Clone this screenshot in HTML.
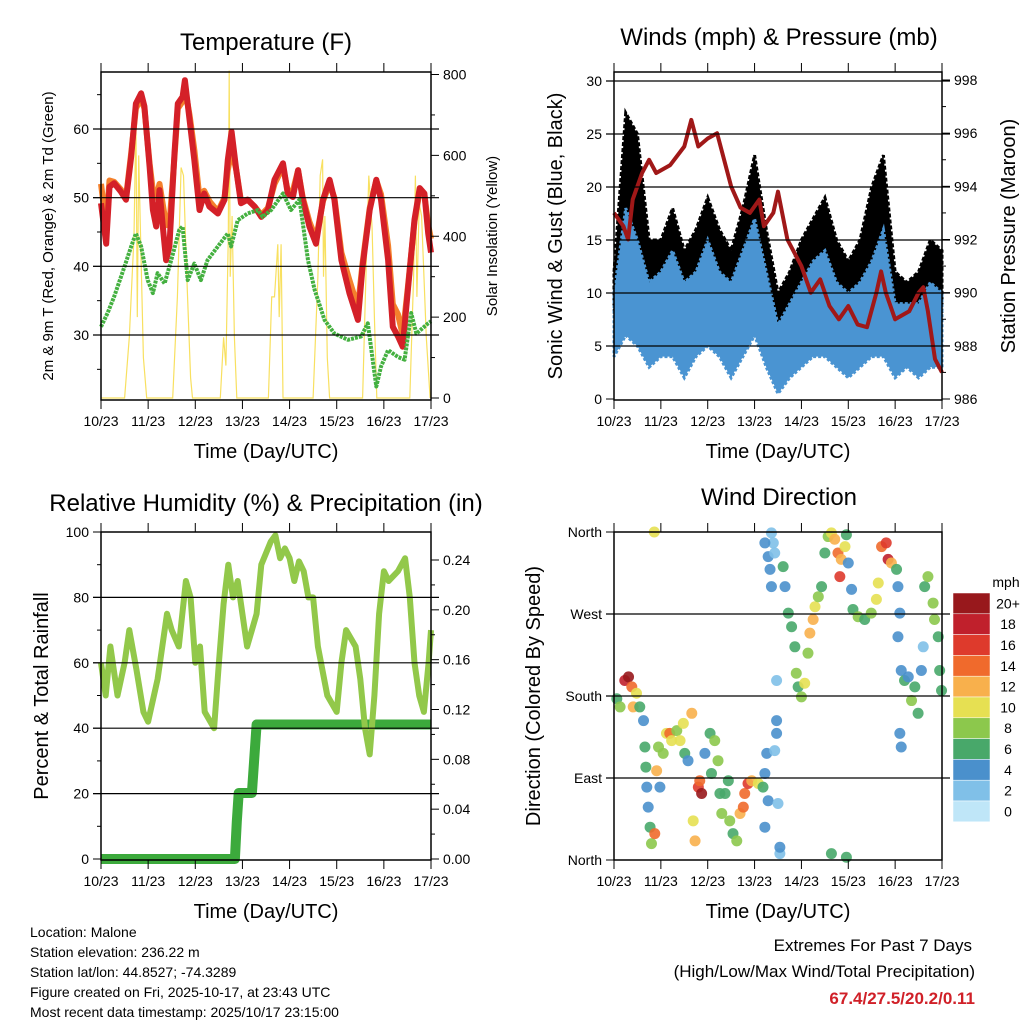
<!DOCTYPE html>
<html><head><meta charset="utf-8">
<style>
body{margin:0;background:#fff;}
svg{display:block;font-family:"Liberation Sans",sans-serif;}
</style></head>
<body>
<svg id="c" width="1024" height="1024" viewBox="0 0 1024 1024">
<rect width="1024" height="1024" fill="#fff"/>
<text x="266" y="50" font-size="24" text-anchor="middle">Temperature (F)</text>
<text x="779" y="45" font-size="24" text-anchor="middle">Winds (mph) &amp; Pressure (mb)</text>
<text x="266" y="511" font-size="24" text-anchor="middle">Relative Humidity (%) &amp; Precipitation (in)</text>
<text x="779" y="505" font-size="24" text-anchor="middle">Wind Direction</text>
<text transform="translate(53,236) rotate(-90)" font-size="15" text-anchor="middle">2m &amp; 9m T (Red, Orange) &amp; 2m Td (Green)</text>
<text transform="translate(497,236) rotate(-90)" font-size="15" text-anchor="middle">Solar Insolation (Yellow)</text>
<text transform="translate(562,236) rotate(-90)" font-size="20" text-anchor="middle">Sonic Wind &amp; Gust (Blue, Black)</text>
<text transform="translate(1015,236) rotate(-90)" font-size="20" text-anchor="middle">Station Pressure (Maroon)</text>
<text transform="translate(48,696) rotate(-90)" font-size="20" text-anchor="middle">Percent &amp; Total Rainfall</text>
<text transform="translate(540,696) rotate(-90)" font-size="20" text-anchor="middle">Direction (Colored By Speed)</text>
<text x="266" y="458" font-size="20" text-anchor="middle">Time (Day/UTC)</text>
<text x="778" y="458" font-size="20" text-anchor="middle">Time (Day/UTC)</text>
<text x="266" y="918" font-size="20" text-anchor="middle">Time (Day/UTC)</text>
<text x="778" y="918" font-size="20" text-anchor="middle">Time (Day/UTC)</text>
<g font-size="14">
<text x="30" y="937">Location: Malone</text>
<text x="30" y="957">Station elevation: 236.22 m</text>
<text x="30" y="977">Station lat/lon: 44.8527; -74.3289</text>
<text x="30" y="997">Figure created on Fri, 2025-10-17, at 23:43 UTC</text>
<text x="30" y="1017">Most recent data timestamp: 2025/10/17 23:15:00</text>
</g>
<text x="972" y="951" font-size="17" text-anchor="end">Extremes For Past 7 Days</text>
<text x="975" y="977" font-size="17" text-anchor="end">(High/Low/Max Wind/Total Precipitation)</text>
<text x="975" y="1004" font-size="17" font-weight="bold" fill="#d02028" text-anchor="end">67.4/27.5/20.2/0.11</text>
</svg>
<script>
// ---- data ----
const dayLabels=["10/23","11/23","12/23","13/23","14/23","15/23","16/23","17/23"];
const tT=[0,.11,.18,.28,.42,.53,.64,.74,.85,.92,1.03,1.10,1.17,1.24,1.31,1.38,1.45,1.56,1.63,1.73,1.78,1.88,1.98,2.09,2.19,2.30,2.48,2.62,2.69,2.77,2.87,2.97,3.11,3.26,3.40,3.54,3.68,3.86,3.96,4.07,4.18,4.28,4.42,4.56,4.71,4.85,4.95,5.10,5.27,5.45,5.55,5.70,5.84,5.94,6.09,6.19,6.30,6.40,6.51,6.65,6.76,6.86,6.94,7.0];
const temp2m=[49.2,43.3,51.6,52.1,50.9,49.7,56,63.7,65.2,63.3,54.5,48.2,45.8,51.1,45.8,40.9,42.9,56.5,63.7,64.7,67.1,61.3,55.5,48.2,50.6,48.7,47.7,49.7,55.5,59.6,54,49.2,49.7,48.7,47.2,48.2,52.6,55,50.6,50.1,54,49.7,45.8,43.3,49.7,52.6,49.7,40.9,36.1,32.2,40,48.2,52.6,49.7,40.9,31.2,29.8,28.3,36.6,46.8,51.4,50.6,44.8,42];
const temp9m=[52,46,52.5,52.3,51.2,50,56.5,63,64.5,63,55,51,50,52,49,46,46,56,63,64,66,62,57,50,51,49.5,48,50,54,57,54,49.5,49.7,48.7,47.5,48.5,52,54.5,51,51,54,50,46.5,44,49.5,52,50,42,38,34,40.5,48.5,52.5,50.5,43,34.5,33,30,37,46.5,51,50.5,46,44];
const tD=[0,.14,.28,.5,.64,.74,.85,.99,1.10,1.20,1.35,1.49,1.66,1.73,1.84,1.98,2.12,2.26,2.48,2.69,2.76,2.90,3.11,3.33,3.43,3.61,3.86,4.03,4.21,4.39,4.53,4.74,4.95,5.24,5.52,5.66,5.84,5.94,6.09,6.30,6.44,6.58,6.69,6.94,7.0];
const dewpoint=[31.2,33.2,35.6,40,42.9,44.8,42.9,38,36.1,39,37.5,40.9,45.3,45.8,38,40.4,38,40.9,42.9,44.8,42.9,46.7,47.7,48.2,47.2,48.2,50.6,48.2,49.7,40.9,36.6,32.2,30.2,29.3,29.8,31.7,22.5,25.4,27.8,26.8,26.4,33.2,30.2,31.7,32];
const tS=[0,.5,.6,.7,.74,.77,.8,.86,.9,.97,1.52,1.62,1.7,1.75,1.82,1.9,1.94,2.53,2.6,2.65,2.7,2.72,2.74,2.78,2.83,2.88,3.55,3.62,3.68,3.75,3.78,3.82,3.86,4.5,4.6,4.65,4.7,4.72,4.75,4.8,4.85,5.55,5.62,5.68,5.75,5.8,5.85,6.55,6.63,6.67,6.7,6.75,6.8,6.9,6.98];
const solar=[0,0,150,400,690,200,600,300,100,0,0,250,570,550,300,50,0,0,150,80,400,810,300,450,150,0,0,250,250,380,200,380,0,0,300,550,590,300,450,100,0,0,300,550,420,200,0,0,300,550,250,480,450,150,0];
const tW=[0,.25,.5,.75,1,1.25,1.5,1.75,2,2.25,2.5,2.75,3,3.25,3.5,3.75,4,4.25,4.5,4.75,5,5.25,5.5,5.75,6,6.25,6.5,6.75,7];
const windLo=[4,6,5,3,4,4,2,4,5,4,2,4,6,3,0.5,2,3,4,4,3,2,3,4,4,2,3,2,3,3];
const windHi=[10,18,15,11,12,14,11,12,15,12,11,14,17,12,7,9,11,13,14,11,10,11,13,16,9,9,9,11,10];
const gustHi=[12,27,25,15,15,18,14,16,19,16,14,18,23,16,10,12,15,17,19,15,13,15,20,23,12,11,12,15,14];
const tP=[0,.2,.3,.4,.6,.75,.9,1.2,1.5,1.65,1.8,2.0,2.2,2.35,2.5,2.7,2.9,3.1,3.2,3.4,3.5,3.7,4.0,4.2,4.4,4.6,4.8,5.0,5.2,5.4,5.6,5.7,5.8,6.0,6.3,6.5,6.6,6.7,6.85,7.0];
const pressure=[993,992.5,992,993.5,994.5,995,994.5,994.8,995.5,996.5,995.5,995.8,996,995,994,993.2,993,993.5,992.5,993,993.8,992,991,990,990.5,989.5,989,989.5,988.8,988.7,990,990.8,990,989,989.3,990,990.2,989.3,987.5,987];
const tRH=[0,.1,.2,.35,.5,.6,.75,.9,1.0,1.2,1.4,1.5,1.65,1.8,1.9,2.0,2.1,2.2,2.4,2.5,2.6,2.7,2.8,2.9,3.0,3.1,3.2,3.3,3.4,3.6,3.7,3.8,3.9,4.0,4.1,4.2,4.3,4.4,4.5,4.6,4.8,5.0,5.1,5.2,5.4,5.5,5.6,5.7,5.8,5.9,6.0,6.1,6.3,6.45,6.55,6.65,6.75,6.85,6.95,7.0];
const rh=[60,50,65,50,60,70,58,45,42,55,75,70,65,85,80,60,65,45,40,60,78,90,80,85,75,65,70,75,90,97,99,92,95,92,85,91,88,80,80,65,50,45,60,70,65,55,40,32,50,75,88,85,88,92,80,60,50,45,60,70];
const tR=[0,2.84,2.88,2.92,3.2,3.3,7.0];
const rain=[0,0,0.03,0.053,0.053,0.108,0.108];
const dirT=[.06,.13,.23,.31,.38,.48,.41,.55,.63,.66,.68,.70,.73,.77,.80,.87,.91,.95,.98,1.05,1.12,1.19,1.23,1.34,1.41,1.48,1.51,1.58,1.66,1.69,1.73,1.80,1.87,1.83,1.94,2.05,2.08,2.15,2.22,2.26,2.30,2.37,2.44,2.47,2.54,2.62,2.69,2.76,2.79,2.86,2.94,3.08,3.18,3.22,3.26,3.29,3.22,3.36,3.40,3.22,3.29,3.33,3.36,3.43,3.47,3.47,3.47,3.43,3.50,3.54,3.54,3.61,3.65,3.72,3.79,3.86,3.89,3.93,4.00,4.07,4.14,4.18,4.25,4.29,4.36,4.43,4.50,4.57,4.64,4.71,4.78,4.85,4.82,4.93,4.96,5.00,5.07,5.10,5.21,5.35,5.49,5.60,5.64,5.71,5.81,5.85,5.92,6.03,6.06,6.10,6.06,6.13,6.20,6.28,6.35,6.42,6.49,6.56,6.60,6.63,6.70,6.81,6.84,6.92,6.95,6.99,6.10,6.13,4.64,4.96,.86];
const dirDeg=[177,168,197,201,190,183,168,168,153,124,102,80,58,36,18,29,98,124,80,117,139,139,131,142,131,150,117,109,161,43,21,80,73,87,117,139,95,131,109,73,51,73,87,43,29,21,51,58,73,84,87,84,80,95,117,65,36,359,348,348,333,319,300,337,197,153,139,120,62,7,14,322,300,271,256,234,205,190,179,194,227,249,264,278,289,300,337,355,359,352,337,330,311,344,357,326,297,275,267,264,271,286,304,344,348,330,326,319,300,271,245,208,197,201,175,190,161,208,234,300,311,282,264,245,208,186,139,124,7,3,360];
const dirSpd=[6,8,18,20,14,10,12,6,4,6,6,4,4,6,8,14,12,8,4,8,10,14,10,8,10,10,6,4,12,10,12,16,20,14,4,6,6,8,8,6,8,6,6,8,6,8,12,14,14,16,12,10,6,4,4,4,4,2,2,4,4,4,4,2,2,4,4,2,2,2,4,6,4,6,6,6,8,6,8,10,8,12,12,10,8,6,6,8,10,12,14,12,16,10,6,4,4,6,8,6,8,10,10,14,16,18,12,6,4,4,4,4,6,4,8,6,6,4,2,6,8,8,8,6,6,6,4,4,6,6,10];
const cbLabels=["0","2","4","6","8","10","12","14","16","18","20+"];
const cbColors=["#bfe6f8","#80c0e8","#4a90cc","#48a86a","#8cc84c","#e6e052","#f8b04c","#f06a2c","#de3a2c","#c0202c","#98181c"];

// ---- drawing ----
const svg=document.getElementById('c');
const NS='http://www.w3.org/2000/svg';
function mk(tag,attrs,parent){const e=document.createElementNS(NS,tag);for(const k in attrs)e.setAttribute(k,attrs[k]);(parent||svg).appendChild(e);return e;}
function xS(x0,x1){return t=>x0+(x1-x0)*t/7;}
function lin(v0,y0,v1,y1){return v=>y0+(v-v0)*(y1-y0)/(v1-v0);}
function pathOf(ts,vs,xf,yf){return ts.map((t,i)=>(i?'L':'M')+xf(t).toFixed(1)+','+yf(vs[i]).toFixed(1)).join('');}

function frame(name,x0,x1,y0,y1,xf,yf,leftTicks,leftLabels,rightF,rightTicks,rightLabels,grid,minorL,minorR){
  const g=mk('g',{});
  
  
  grid.forEach(v=>{const y=yf(v);mk('line',{x1:x0-8,x2:x1+8,y1:y,y2:y,stroke:'#000','stroke-width':1.2},g);});
  mk('rect',{x:x0,y:y0,width:x1-x0,height:y1-y0,fill:'none',stroke:'#000','stroke-width':1.5},g);
  for(let d=0;d<=7;d++){const x=xf(d);
    mk('line',{x1:x,x2:x,y1:y1,y2:y1+9,stroke:'#000'},g);mk('line',{x1:x,x2:x,y1:y0,y2:y0-9,stroke:'#000'},g);
    const tx=mk('text',{x:x,y:y1+26,'font-size':14,'text-anchor':'middle'},g);tx.textContent=dayLabels[d];}
  leftTicks.forEach((v,i)=>{const y=yf(v);mk('line',{x1:x0-8,x2:x0,y1:y,y2:y,stroke:'#000'},g);
    const tx=mk('text',{x:x0-12,y:y+5,'font-size':14,'text-anchor':'end'},g);tx.textContent=leftLabels[i];});
  (minorL||[]).forEach(v=>{const y=yf(v);mk('line',{x1:x0-4,x2:x0,y1:y,y2:y,stroke:'#000'},g);});
  if(rightF){rightTicks.forEach((v,i)=>{const y=rightF(v);mk('line',{x1:x1,x2:x1+8,y1:y,y2:y,stroke:'#000'},g);
    const tx=mk('text',{x:x1+12,y:y+5,'font-size':14},g);tx.textContent=rightLabels[i];});
   (minorR||[]).forEach(v=>{const y=rightF(v);mk('line',{x1:x1,x2:x1+4,y1:y,y2:y,stroke:'#000'},g);});}
}

// Panel 1 temperature
(function(){
  const xf=xS(101,431), yf=lin(30,335,60,129), sf=lin(0,398,800,74.5);
  const sp=mk('path',{d:pathOf(tS,solar,xf,sf),fill:'none',stroke:'#f8e060','stroke-width':1.2});
  
  
  const o=mk('path',{d:pathOf(tT,temp9m,xf,yf),fill:'none',stroke:'#f4802c','stroke-width':6,'stroke-linejoin':'round'});
  
  
  const r=mk('path',{d:pathOf(tT,temp2m,xf,yf),fill:'none',stroke:'#d42028','stroke-width':6,'stroke-linejoin':'round'});
  
  
  const gdp=mk('path',{d:pathOf(tD,dewpoint,xf,yf),fill:'none',stroke:'#44b040','stroke-width':4,'stroke-dasharray':'3 1','stroke-linejoin':'round'});
  
  
  frame('temperature',101,431,72,400,xf,yf,[30,40,50,60],["30","40","50","60"],sf,[0,200,400,600,800],["0","200","400","600","800"],[30,40,50,60],[25,35,45,55,65],[100,300,500,700]);
})();

// Panel 2 winds
(function(){
  const xf=xS(614,942), yf=lin(0,399,30,81), pf=lin(986,399,998,80);
  let d='';
  tW.forEach((t,i)=>{d+=(i?'L':'M')+xf(t).toFixed(1)+','+yf(gustHi[i]).toFixed(1);});
  for(let i=tW.length-1;i>=0;i--)d+='L'+xf(tW[i]).toFixed(1)+','+yf(windHi[i]-2).toFixed(1);
  const ga=mk('path',{d:d+'Z',fill:'#000',stroke:'#000','stroke-width':3,'stroke-dasharray':'4 2'});
  
  
  let d2='';
  tW.forEach((t,i)=>{d2+=(i?'L':'M')+xf(t).toFixed(1)+','+yf(windHi[i]).toFixed(1);});
  for(let i=tW.length-1;i>=0;i--)d2+='L'+xf(tW[i]).toFixed(1)+','+yf(windLo[i]).toFixed(1);
  const wa=mk('path',{d:d2+'Z',fill:'#4a94d2',stroke:'#4a94d2','stroke-width':3,'stroke-dasharray':'3 2'});
  
  
  const p=mk('path',{d:pathOf(tP,pressure,xf,pf),fill:'none',stroke:'#a01818','stroke-width':4,'stroke-linejoin':'round'});
  
  
  frame('winds',614,942,72,400,xf,yf,[0,5,10,15,20,25,30],["0","5","10","15","20","25","30"],pf,[986,988,990,992,994,996,998],["986","988","990","992","994","996","998"],[5,10,15,20,25,30],[],[987,989,991,993,995,997]);
})();

// Panel 3 RH & rain
(function(){
  const xf=xS(101,431), yf=lin(0,859,100,532), rf=lin(0,859,0.24,560);
  const rp=mk('path',{d:pathOf(tR,rain,xf,rf),fill:'none',stroke:'#3caa3c','stroke-width':10,'stroke-linejoin':'round'});
  
  
  const rl=mk('path',{d:pathOf(tRH,rh,xf,yf),fill:'none',stroke:'#92c84a','stroke-width':6,'stroke-linejoin':'round'});
  
  
  frame('humidity',101,431,532,860,xf,yf,[0,20,40,60,80,100],["0","20","40","60","80","100"],rf,[0,.04,.08,.12,.16,.2,.24],["0.00","0.04","0.08","0.12","0.16","0.20","0.24"],[20,40,60,80],[10,30,50,70,90],[.02,.06,.1,.14,.18,.22]);
})();

// Panel 4 wind direction
(function(){
  const xf=xS(614,942), yf=lin(0,860,360,532);
  const g=mk('g',{});
  
  
  dirT.forEach((t,i)=>{
    const ci=Math.min(10,Math.round(dirSpd[i]/2));
    const c=mk('circle',{cx:xf(t),cy:yf(dirDeg[i]),r:5.5,fill:cbColors[ci],'fill-opacity':0.9},g);
    
    
  });
  frame('direction',614,942,532,860,xf,yf,[0,90,180,270,360],["North","East","South","West","North"],null,[],[],[90,180,270],[],[]);
  const cb=mk('g',{});
  
  
  const t=mk('text',{x:1006,y:587,'font-size':14,'text-anchor':'middle'},cb);t.textContent='mph';
  const top=593,h=20.8;
  for(let i=0;i<11;i++){const k=10-i;const y=top+i*h;
    const r=mk('rect',{x:953,y:y,width:37,height:h,fill:cbColors[k],stroke:'#fff','stroke-width':0.5},cb);
    
    
    const tx=mk('text',{x:1008,y:y+h/2+5,'font-size':14,'text-anchor':'middle'},cb);tx.textContent=cbLabels[k];}
})();
</script>
</body></html>
